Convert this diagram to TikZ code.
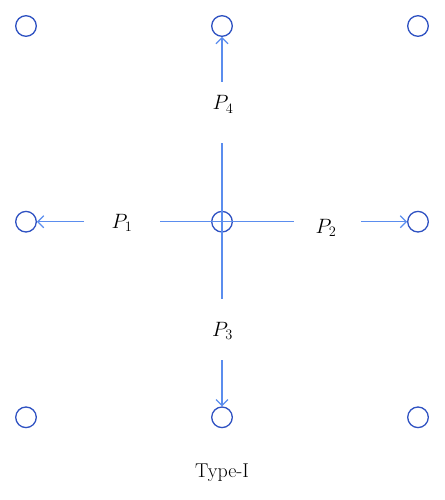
\documentclass[tikz,border=0pt]{standalone}
\usetikzlibrary{arrows.meta}
\definecolor{dotblue}{HTML}{2F52C2}
\definecolor{lineblue}{HTML}{5B8DEE}
\begin{document}
\begin{tikzpicture}[x=1pt,y=-1pt,
  site/.style={circle,draw=dotblue,line width=1.3pt,minimum size=20.6pt,inner sep=0pt},
  link/.style={draw=lineblue,line width=1.2pt},
  push/.style={link,-{Straight Barb[length=6pt,width=12pt,line width=1.2pt]}},
  lab/.style={anchor=base,inner sep=0pt,font=\fontsize{20}{24}\selectfont}]
\useasboundingbox (0,0) rectangle (444,500);
% sites
\node[site] (a1) at (26,26) {};
\node[site] (a2) at (222,26) {};
\node[site] (a3) at (418,26) {};
\node[site] (b1) at (26,221.7) {};
\node[site] (b2) at (222,221.7) {};
\node[site] (b3) at (418,221.7) {};
\node[site] (c1) at (26,417.3) {};
\node[site] (c2) at (222,417.3) {};
\node[site] (c3) at (418,417.3) {};
% cross through centre
\coordinate (hl) at (160,221.7);
\coordinate (hr) at (294,221.7);
\coordinate (vt) at (222,143);
\coordinate (vb) at (222,299);
\draw[link] (hl) -- (hr);
\draw[link] (vt) -- (vb);
% labels
\node[lab] (p4) at (223,110) {$P_4$};
\node[lab] (p1) at (122,228) {$P_1$};
\node[lab] (p2) at (326,233) {$P_2$};
\node[lab] (p3) at (222.5,336.5) {$P_3$};
\node[lab] (ty) at (222,477) {Type-I};
% arrows
\coordinate (s4) at (222,82);
\coordinate (s1) at (84,221.7);
\coordinate (s2) at (361,221.7);
\coordinate (s3) at (222,360);
\draw[push] (s4) -- (a2.south);
\draw[push] (s1) -- (b1.east);
\draw[push] (s2) -- (b3.west);
\draw[push] (s3) -- (c2.north);
\end{tikzpicture}
\end{document}
